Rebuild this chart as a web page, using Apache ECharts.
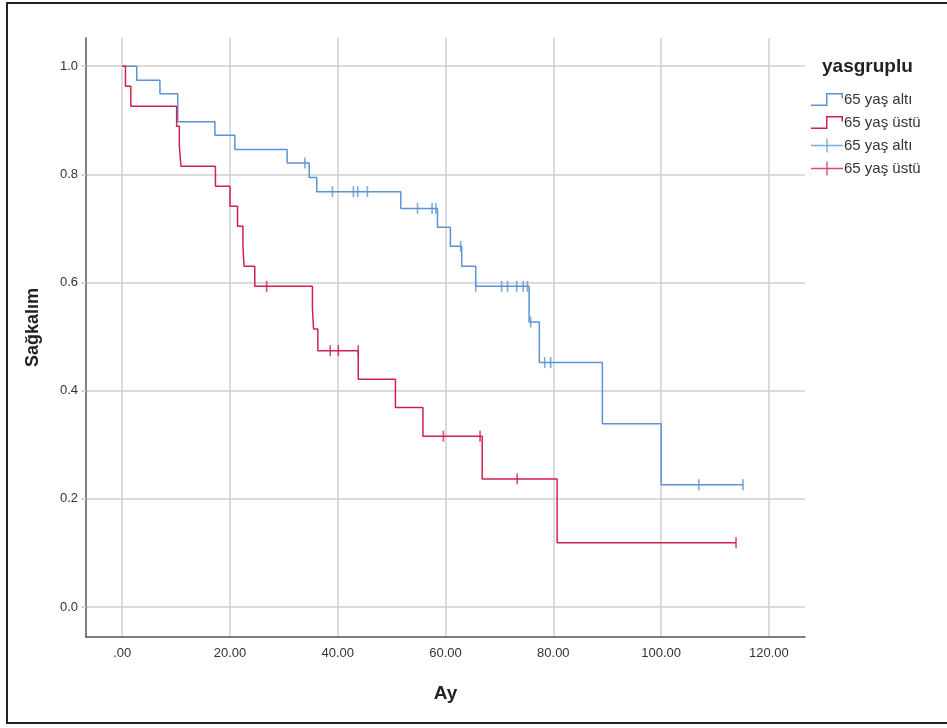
<!DOCTYPE html>
<html>
<head>
<meta charset="utf-8">
<script src="https://cdn.jsdelivr.net/npm/echarts@6/dist/echarts.min.js"></script>
<style>
html,body{margin:0;padding:0;background:#fff;}
#frame{position:absolute;left:6px;top:2px;width:947px;height:722px;border:2px solid #222;box-sizing:border-box;}
#chart{position:absolute;left:0;top:0;width:947px;height:728px;}
</style>
</head>
<body>
<div id="frame"></div>
<div id="chart"></div>
<script>
// ---- data ----
const xTicks = [0, 20, 40, 60, 80, 100, 120];
const yTicks = [0, 0.2, 0.4, 0.6, 0.8, 1.0];

const blueTime = [0, 2.7, 7.0, 10.3, 17.2, 20.9, 30.6, 34.7, 36.1, 51.7, 58.5, 60.9, 63.0, 65.6, 75.5, 77.4, 89.1, 100.0, 115.2];
const blueSurv = [1.0, 0.974, 0.949, 0.897, 0.872, 0.846, 0.821, 0.794, 0.768, 0.737, 0.702, 0.667, 0.630, 0.593, 0.527, 0.452, 0.339, 0.226, 0.226];
const blueCensTime = [33.9, 39.0, 42.9, 43.7, 45.5, 54.8, 57.5, 58.2, 62.8, 65.6, 70.4, 71.5, 73.2, 74.4, 75.2, 75.8, 78.4, 79.5, 107.0, 115.2];
const blueCensSurv = [0.821, 0.768, 0.768, 0.768, 0.768, 0.737, 0.737, 0.737, 0.667, 0.593, 0.593, 0.593, 0.593, 0.593, 0.593, 0.527, 0.452, 0.452, 0.226, 0.226];

const redTime = [0, 0.6, 1.6, 10.1, 10.6, 10.9, 17.3, 20.0, 21.4, 22.4, 22.6, 24.6, 35.3, 35.5, 36.3, 43.8, 50.7, 55.8, 66.8, 80.7, 113.9];
const redSurv = [1.0, 0.963, 0.926, 0.889, 0.852, 0.815, 0.778, 0.741, 0.704, 0.667, 0.630, 0.593, 0.553, 0.514, 0.474, 0.421, 0.369, 0.316, 0.237, 0.119, 0.119];
const redCensTime = [26.8, 38.6, 40.1, 43.8, 59.6, 66.4, 73.3, 113.9];
const redCensSurv = [0.593, 0.474, 0.474, 0.474, 0.316, 0.316, 0.237, 0.119];

const legendTitle = 'yasgruplu';
const groupLabels = { bl: '65 yaş altı', rl: '65 yaş üstü', bc: '65 yaş altı', rc: '65 yaş üstü' };
const xTitle = 'Ay';
const yTitle = 'Sağkalım';

// ---- styling ----
const BLUE = '#5b93d6';
const RED = '#d2204c';
const GRID = '#cfcfcf';
const FONT = '"Liberation Sans", Arial, sans-serif';

const zip = (a, b) => a.map((v, i) => [v, b[i]]);

const stepIcon = 'path://M0,12 L15,12 L15,0.5 L32,0.5 L32,6 L30.5,6 L30.5,2 L16.5,2 L16.5,13.5 L0,13.5 Z';
const crossIcon = 'path://M0,6.3 L32,6.3 L32,7.7 L0,7.7 Z M15.3,0 L16.7,0 L16.7,14 L15.3,14 Z';

const chart = echarts.init(document.getElementById('chart'), null, { renderer: 'canvas' });
chart.setOption({
  backgroundColor: 'transparent',
  animation: false,
  title: {
    text: legendTitle,
    left: 817, top: 52,
    textStyle: { fontFamily: FONT, fontSize: 19, fontWeight: 'bold', color: '#222' }
  },
  legend: {
    orient: 'vertical',
    left: 806, top: 87,
    itemWidth: 32, itemHeight: 14, itemGap: 8,
    textStyle: { fontFamily: FONT, fontSize: 15, color: '#333', padding: [0, 0, 0, -4] },
    itemStyle: { borderWidth: 0 },
    formatter: n => groupLabels[n],
    data: [
      { name: 'bl', icon: stepIcon },
      { name: 'rl', icon: stepIcon },
      { name: 'bc', icon: crossIcon },
      { name: 'rc', icon: crossIcon }
    ]
  },
  grid: { left: 86, top: 38, right: 142, bottom: 91, containLabel: false },
  xAxis: {
    type: 'value',
    min: -6.72, max: 126.7,
    name: xTitle, nameLocation: 'middle', nameGap: 47,
    nameTextStyle: { fontFamily: FONT, fontSize: 19, fontWeight: 'bold', color: '#222' },
    axisLine: { show: true, onZero: false, lineStyle: { color: '#555', width: 1.5 } },
    axisTick: { show: false, customValues: xTicks },
    axisLabel: {
      customValues: xTicks, margin: 10,
      fontFamily: FONT, fontSize: 13, color: '#333',
      formatter: v => (v === 0 ? '.00' : v.toFixed(2))
    },
    splitLine: { show: true, lineStyle: { color: GRID, width: 1.5 } }
  },
  yAxis: {
    type: 'value',
    min: -0.0553, max: 1.052,
    name: yTitle, nameLocation: 'middle', nameGap: 44, nameRotate: 90,
    nameTextStyle: { fontFamily: FONT, fontSize: 18, fontWeight: 'bold', color: '#222', padding: [0, 0, 0, 20] },
    axisLine: { show: true, onZero: false, lineStyle: { color: '#555', width: 1.5 } },
    axisTick: { show: true, customValues: yTicks, length: 5, lineStyle: { color: GRID, width: 1.5 } },
    axisLabel: {
      customValues: yTicks, margin: 8,
      fontFamily: FONT, fontSize: 13, color: '#333',
      formatter: v => v.toFixed(1)
    },
    splitLine: { show: true, lineStyle: { color: GRID, width: 1.5 } }
  },
  series: [
    {
      name: 'bl', type: 'line', step: 'end', data: zip(blueTime, blueSurv),
      showSymbol: false, symbol: 'none', color: BLUE,
      lineStyle: { color: BLUE, width: 1.5 }, z: 3
    },
    {
      name: 'rl', type: 'line', step: 'end', data: zip(redTime, redSurv),
      showSymbol: false, symbol: 'none', color: RED,
      lineStyle: { color: RED, width: 1.5 }, z: 3
    },
    {
      name: 'bc', type: 'scatter', data: zip(blueCensTime, blueCensSurv),
      symbol: 'rect', symbolSize: [1.6, 11], color: BLUE,
      itemStyle: { color: BLUE }, z: 4
    },
    {
      name: 'rc', type: 'scatter', data: zip(redCensTime, redCensSurv),
      symbol: 'rect', symbolSize: [1.6, 11], color: RED,
      itemStyle: { color: RED }, z: 4
    }
  ]
});
</script>
</body>
</html>
